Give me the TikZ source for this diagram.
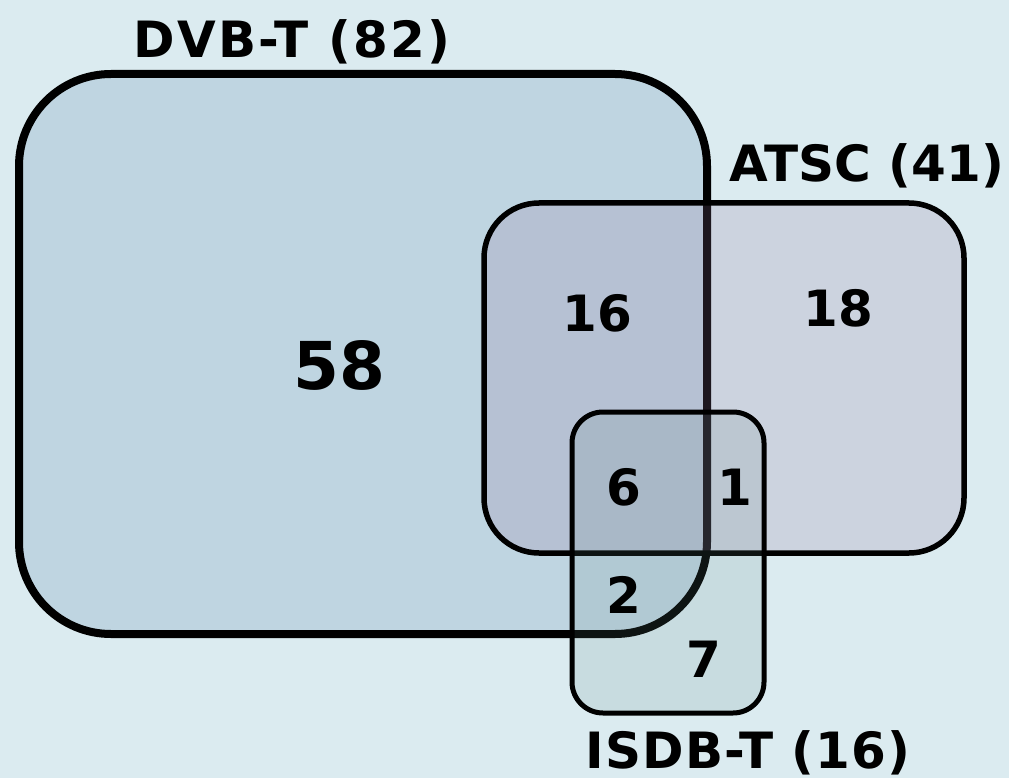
\documentclass[tikz,border=0pt]{standalone}
\usepackage{fontspec}
\setmainfont{DejaVu Sans}
\definecolor{bgcol}{RGB}{219,235,240}
\definecolor{dvbcol}{RGB}{191,213,225}
\definecolor{atsccol}{RGB}{148,115,155}
\definecolor{isdbcol}{RGB}{98,135,133}
\tikzset{
  setbox/.style={rectangle, inner sep=0pt, draw=black},
  lbl/.style={font=\fontsize{50}{50}\selectfont\bfseries, inner sep=0pt, anchor=base},
  spaced/.style={font=\fontsize{50}{50}\selectfont\bfseries\addfontfeatures{LetterSpace=#1}},
}
\begin{document}
\begin{tikzpicture}[x=1pt,y=-1pt]
  \fill[bgcol] (0,0) rectangle (1009,778);
  \useasboundingbox (0,0) rectangle (1009,778);

  % DVB-T set
  \node[setbox, line width=8pt, fill=dvbcol, rounded corners=92pt,
        minimum width=688pt, minimum height=560pt] (dvb) at (363,354) {};
  % ATSC set
  \node[setbox, line width=5.5pt, fill=atsccol, fill opacity=0.2, rounded corners=55pt,
        minimum width=480pt, minimum height=350pt] (atsc) at (724,378) {};
  % ISDB-T set
  \node[setbox, line width=5pt, fill=isdbcol, fill opacity=0.15, rounded corners=31pt,
        minimum width=192pt, minimum height=301pt] (isdb) at (668,562.5) {};

  % set names
  \node[lbl, spaced=4.5] (ldvb) at (292,58) {DVB-T (82)};
  \node[lbl] (latsc) at (867,182) {ATSC (41)};
  \node[lbl, spaced=2.5] (lisdb) at (748,768) {ISDB-T (16)};

  % region counts
  \node[lbl, font=\fontsize{66}{66}\selectfont\bfseries] (n58) at (339,389) {58};
  \node[lbl] (n16) at (597,331) {16};
  \node[lbl] (n18) at (838,326) {18};
  \node[lbl] (n6) at (624,505) {6};
  \node[lbl] (n1) at (735,505) {1};
  \node[lbl] (n2) at (624,613) {2};
  \node[lbl] (n7) at (704,677) {7};
\end{tikzpicture}
\end{document}
